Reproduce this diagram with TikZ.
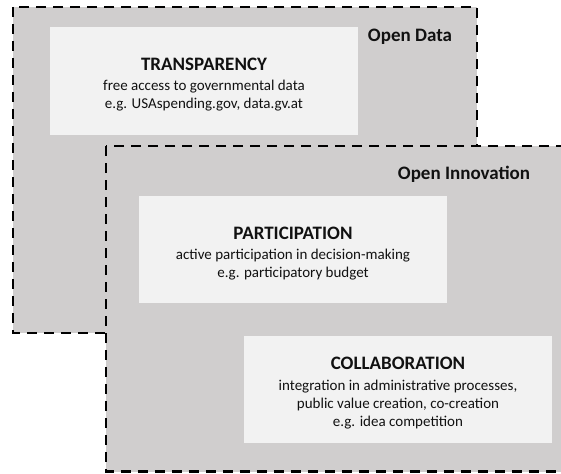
\documentclass[tikz,border=0pt]{standalone}
\usepackage{fontspec}
\setmainfont{Carlito}
\definecolor{regiongray}{HTML}{D0CECE}
\definecolor{boxlight}{HTML}{F2F2F2}
\definecolor{txt}{HTML}{111111}
\tikzset{
  region/.style={fill=regiongray, draw=black, line width=2.5pt, dash pattern=on 10pt off 7pt},
  regionlabel/.style={font=\fontsize{19}{22}\selectfont\bfseries, text=txt, inner sep=0pt},
  infobox/.style={fill=boxlight, draw=none, inner sep=0pt, minimum width=308pt},
  boxtext/.style={inner sep=0pt, align=center, text=txt, font=\fontsize{15}{18}\selectfont},
}
\newcommand{\boxtitle}[1]{{\fontsize{19}{22}\selectfont\bfseries #1}\\[2.5pt]}
\begin{document}
\begin{tikzpicture}[x=1pt,y=-1pt]
\useasboundingbox (0,0) rectangle (561,473);
\begin{scope}
\clip (0,0) rectangle (561,473);
\draw[region] (13,7) rectangle (477,333);
\node[regionlabel] (odlabel) at (410,36.5) {Open Data};
\node[infobox, minimum height=108pt] (transp) at (204,81) {};
\node[boxtext] (transpt) at ([yshift=-3.5pt]transp.center) {\boxtitle{TRANSPARENCY}free access to governmental data\\e.g. USAspending.gov, data.gv.at};
\draw[region] (106,146) rectangle (580,471.5);
\node[regionlabel] (oilabel) at (464,174.5) {Open Innovation};
\node[infobox, minimum height=107pt] (partic) at (293,249.5) {};
\node[boxtext] (partict) at ([yshift=-4pt]partic.center) {\boxtitle{PARTICIPATION}active participation in decision-making\\e.g. participatory budget};
\node[infobox, minimum height=107pt] (collab) at (398,389.5) {};
\node[boxtext] (collabt) at ([yshift=-3.5pt]collab.center) {\boxtitle{COLLABORATION}integration in administrative processes,\\public value creation, co-creation\\e.g. idea competition};
\end{scope}
\end{tikzpicture}
\end{document}
